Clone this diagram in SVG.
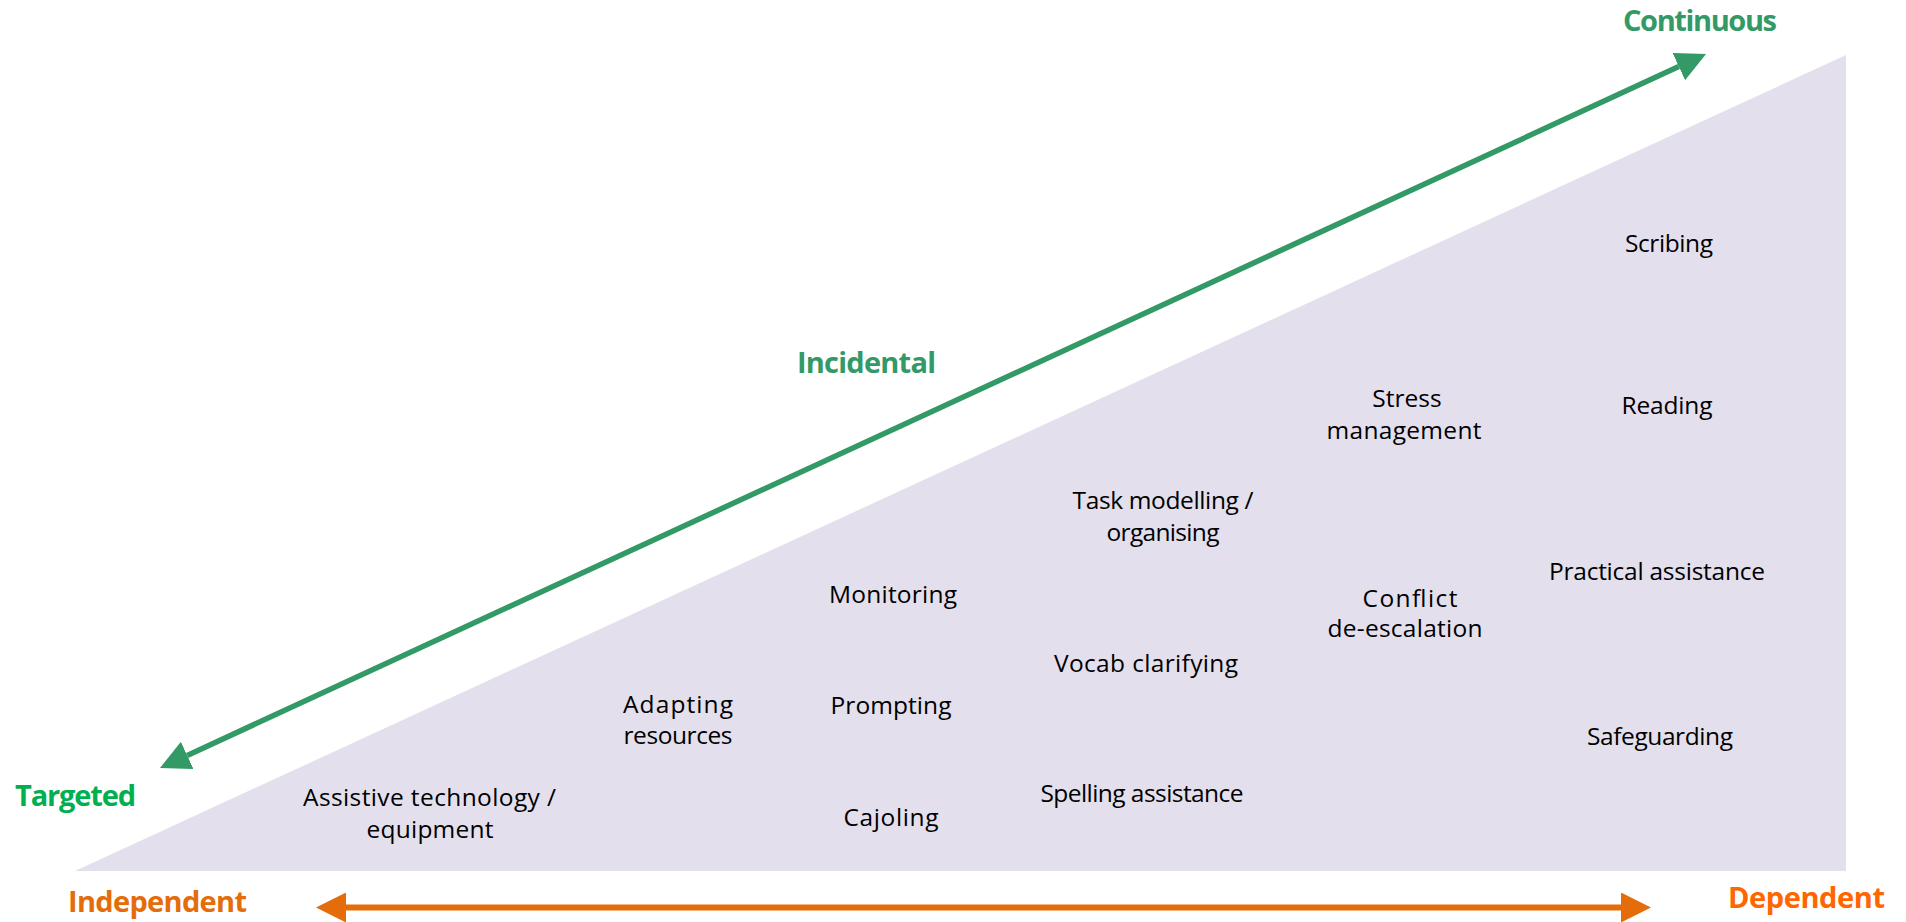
<svg xmlns="http://www.w3.org/2000/svg" width="1906" height="922" viewBox="0 0 1906 922">
<style>
.lbl{font-family:"Open Sans","Liberation Sans",sans-serif;font-size:24.5px;fill:#000;text-anchor:middle}
.ax{font-family:"Open Sans","Liberation Sans",sans-serif;font-size:29px;font-weight:bold;text-anchor:middle}
.g1{fill:#339966}
.g2{fill:#00B050}
.o1{fill:#E46C0A}
.o2{fill:#FF6600}
</style>
<defs>
<marker id="hg" markerUnits="userSpaceOnUse" markerWidth="30" markerHeight="30" viewBox="0 0 30 30" refX="0" refY="15" orient="auto-start-reverse">
<path d="M0,0 L30,15 L0,30 Z" fill="#339966"/>
</marker>
<marker id="ho" markerUnits="userSpaceOnUse" markerWidth="30" markerHeight="30" viewBox="0 0 30 30" refX="0" refY="15" orient="auto-start-reverse">
<path d="M0,0 L30,15 L0,30 Z" fill="#E46C0A"/>
</marker>
</defs>
<rect width="1906" height="922" fill="#fff"/>
<g id="triangle">
<polygon points="75,871 1846,55 1846,871" fill="#E4DFEC"/>
</g>
<g id="connectors">
<line x1="187.2" y1="755.4" x2="1678.8" y2="66.6" stroke="#339966" stroke-width="5.5" marker-start="url(#hg)" marker-end="url(#hg)"/>
<line x1="346" y1="907.5" x2="1621" y2="907.5" stroke="#E46C0A" stroke-width="6" marker-start="url(#ho)" marker-end="url(#ho)"/>
</g>
<g id="axis-labels">
<text class="ax g1" x="1700" y="31" textLength="154">Continuous</text>
<text class="ax g1" x="866.5" y="373" textLength="139">Incidental</text>
<text class="ax g2" x="75.5" y="806" textLength="121">Targeted</text>
<text class="ax o1" x="157.5" y="912" textLength="179">Independent</text>
<text class="ax o2" x="1806.5" y="908" textLength="157">Dependent</text>
</g>
<g id="n-scribing"><text class="lbl" x="1669" y="252" textLength="88">Scribing</text></g>
<g id="n-stress"><text class="lbl" x="1407" y="407">Stress</text><text class="lbl" x="1404" y="439" textLength="155">management</text></g>
<g id="n-reading"><text class="lbl" x="1667" y="414" textLength="91">Reading</text></g>
<g id="n-task"><text class="lbl" x="1163" y="509" textLength="181">Task modelling /</text><text class="lbl" x="1163" y="541" textLength="113">organising</text></g>
<g id="n-practical"><text class="lbl" x="1657" y="580" textLength="216">Practical assistance</text></g>
<g id="n-monitoring"><text class="lbl" x="893" y="603" textLength="128">Monitoring</text></g>
<g id="n-conflict"><text class="lbl" x="1410" y="607" textLength="95">Conflict</text><text class="lbl" x="1405" y="637" textLength="155">de-escalation</text></g>
<g id="n-vocab"><text class="lbl" x="1146" y="672" textLength="184">Vocab clarifying</text></g>
<g id="n-adapting"><text class="lbl" x="678" y="713" textLength="110">Adapting</text><text class="lbl" x="678" y="744" textLength="109">resources</text></g>
<g id="n-prompting"><text class="lbl" x="891" y="714" textLength="121">Prompting</text></g>
<g id="n-safeguarding"><text class="lbl" x="1660" y="745" textLength="146">Safeguarding</text></g>
<g id="n-spelling"><text class="lbl" x="1142" y="802" textLength="203">Spelling assistance</text></g>
<g id="n-cajoling"><text class="lbl" x="891" y="826" textLength="95">Cajoling</text></g>
<g id="n-assistive"><text class="lbl" x="429.5" y="806" textLength="253">Assistive technology /</text><text class="lbl" x="430" y="838" textLength="127">equipment</text></g>
</svg>
